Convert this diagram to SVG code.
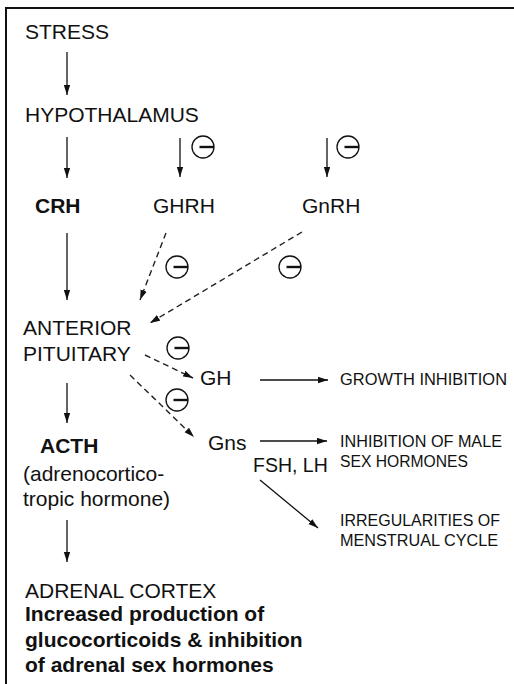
<svg xmlns="http://www.w3.org/2000/svg" width="514" height="684" viewBox="0 0 514 684">
<style>
text{font-family:"Liberation Sans",Arial,Helvetica,sans-serif;fill:#111;}
.m{font-size:21px;}
.b{font-size:21px;font-weight:bold;}
.s{font-size:16.8px;}
.ln{stroke:#111;stroke-width:1.3;fill:none;}
.ds{stroke:#222;stroke-width:1.4;fill:none;stroke-dasharray:6 4;}
.ci{stroke:#111;stroke-width:1.3;fill:none;}
.bar{stroke:#111;stroke-width:2.4;}
</style>
<defs>
<marker id="ah" markerUnits="userSpaceOnUse" markerWidth="11" markerHeight="7" refX="10" refY="3.2" orient="auto">
<path d="M0,0 L10,3.2 L0,6.4 z" fill="#111"/>
</marker>
<g id="minus">
<circle cx="0" cy="0" r="11" class="ci"/>
<line x1="-3.5" y1="0" x2="11" y2="0" class="bar"/>
</g>
</defs>
<rect width="514" height="684" fill="#fff"/>
<g id="frame">
<line x1="6" y1="8" x2="514" y2="8" stroke="#111" stroke-width="2"/>
<line x1="6" y1="7" x2="6" y2="684" stroke="#111" stroke-width="2"/>
</g>
<g id="stress"><text class="m" x="25" y="39">STRESS</text></g>
<g id="hypothalamus"><text class="m" x="25" y="122">HYPOTHALAMUS</text></g>
<g id="crh"><text class="b" x="35" y="213">CRH</text></g>
<g id="ghrh"><text class="m" x="153" y="213">GHRH</text></g>
<g id="gnrh"><text class="m" x="302" y="213">GnRH</text></g>
<g id="anterior-pituitary"><text class="m" x="23" y="335">ANTERIOR</text><text class="m" x="23" y="361">PITUITARY</text></g>
<g id="gh"><text class="m" x="200" y="385">GH</text></g>
<g id="growth"><text class="s" x="340" y="385" textLength="167" lengthAdjust="spacingAndGlyphs">GROWTH INHIBITION</text></g>
<g id="gns"><text class="m" x="208" y="450">Gns</text></g>
<g id="fshlh"><text class="m" x="253" y="472" style="font-size:19.5px">FSH, LH</text></g>
<g id="male"><text class="s" x="340" y="447" textLength="162" lengthAdjust="spacingAndGlyphs">INHIBITION OF MALE</text><text class="s" x="340" y="467" textLength="128" lengthAdjust="spacingAndGlyphs">SEX HORMONES</text></g>
<g id="menstrual"><text class="s" x="340" y="526" textLength="160" lengthAdjust="spacingAndGlyphs">IRREGULARITIES OF</text><text class="s" x="340" y="546" textLength="158" lengthAdjust="spacingAndGlyphs">MENSTRUAL CYCLE</text></g>
<g id="acth"><text class="b" x="40" y="453">ACTH</text><text class="m" x="23" y="481">(adrenocortico-</text><text class="m" x="23" y="506">tropic hormone)</text></g>
<g id="adrenal"><text class="m" x="25" y="598">ADRENAL CORTEX</text><text class="b" x="25" y="621">Increased production of</text><text class="b" x="25" y="647">glucocorticoids &amp; inhibition</text><text class="b" x="25" y="672">of adrenal sex hormones</text></g>
<g id="inhibitors">
<use href="#minus" x="203" y="147"/>
<use href="#minus" x="348" y="147"/>
<use href="#minus" x="177" y="267"/>
<use href="#minus" x="290" y="267"/>
<use href="#minus" x="178" y="348"/>
<use href="#minus" x="177" y="400"/>
</g>
<g id="connectors">
<line class="ln" x1="67" y1="52" x2="67" y2="95" marker-end="url(#ah)"/>
<line class="ln" x1="67" y1="137" x2="67" y2="178" marker-end="url(#ah)"/>
<line class="ln" x1="67" y1="233" x2="67" y2="300" marker-end="url(#ah)"/>
<line class="ln" x1="67" y1="383" x2="67" y2="423" marker-end="url(#ah)"/>
<line class="ln" x1="67" y1="520" x2="67" y2="562" marker-end="url(#ah)"/>
<line class="ln" x1="180" y1="138" x2="180" y2="177" marker-end="url(#ah)"/>
<line class="ln" x1="327" y1="138" x2="327" y2="177" marker-end="url(#ah)"/>
<line class="ds" x1="166" y1="233" x2="140" y2="300" marker-end="url(#ah)"/>
<line class="ds" x1="302" y1="232" x2="150" y2="323" marker-end="url(#ah)"/>
<line class="ds" x1="145" y1="355" x2="193" y2="378" marker-end="url(#ah)"/>
<line class="ds" x1="130" y1="375" x2="194" y2="437" marker-end="url(#ah)"/>
<line class="ln" x1="260" y1="380" x2="328" y2="380" marker-end="url(#ah)"/>
<line class="ln" x1="260" y1="441" x2="327" y2="441" marker-end="url(#ah)"/>
<line class="ln" x1="260" y1="480" x2="318" y2="528" marker-end="url(#ah)"/>
</g>
</svg>
